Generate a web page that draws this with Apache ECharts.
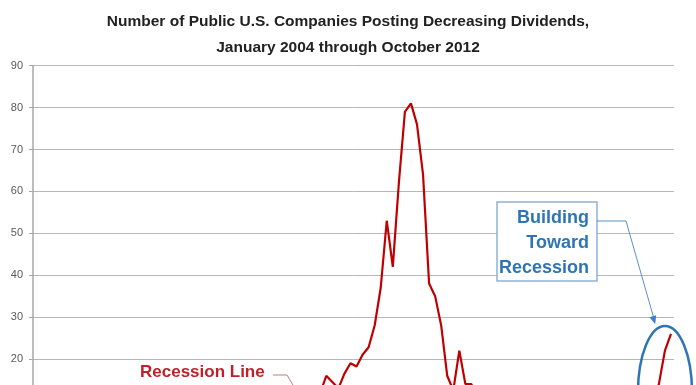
<!DOCTYPE html>
<html>
<head>
<meta charset="utf-8">
<script src="https://cdn.jsdelivr.net/npm/echarts@6/dist/echarts.min.js"></script>
<style>
  html, body { margin: 0; padding: 0; background: #fff; overflow: hidden; }
  /* the reference is a crop: the lower part of the chart lies below the window */
  #chart { width: 696px; height: 480px; }
</style>
</head>
<body>
<div id="chart"></div>
<script>
// monthly counts, Jan 2004 .. Oct 2012 (values under ~14 are below the visible crop, estimated)
var values2004 = [9, 6, 7, 8, 5, 7, 6, 8, 7, 6, 9, 8];
var values2005 = [8, 5, 6, 7, 6, 8, 5, 7, 6, 7, 8, 6];
var values2006 = [7, 5, 6, 8, 5, 6, 7, 6, 5, 7, 6, 9];
var values2007 = [8, 6, 7, 9, 6, 8, 7, 10, 9, 11, 10, 12];
var values2008 = [16, 14.5, 13, 16.5, 19, 18.2, 21, 22.8, 28, 37, 53, 42];
var values2009 = [62, 79, 81, 76, 64, 38, 35, 28, 16, 12.5, 22, 14];
var values2010 = [14, 9, 8, 10, 7, 8, 9, 6, 7, 8, 6, 9];
var values2011 = [7, 5, 6, 7, 5, 6, 5, 7, 6, 8, 7, 9];
var values2012 = [8, 6, 7, 9, 8, 10, 9, 14, 22, 26];

var monthNames = ['Jan', 'Feb', 'Mar', 'Apr', 'May', 'Jun', 'Jul', 'Aug', 'Sep', 'Oct', 'Nov', 'Dec'];
var values = [].concat(values2004, values2005, values2006, values2007, values2008,
  values2009, values2010, values2011, values2012);
var months = values.map(function (v, i) {
  return monthNames[i % 12] + '-' + String(4 + Math.floor(i / 12)).padStart(2, '0');
});

var chart = echarts.init(document.getElementById('chart'));
var font = 'Liberation Sans';

chart.setOption({
  animation: false,
  title: {
    text: 'Number of Public U.S. Companies Posting Decreasing Dividends,\nJanuary 2004 through October 2012',
    left: 'center',
    top: 4,
    textStyle: {
      fontFamily: font,
      fontSize: 15.5,
      fontWeight: 'bold',
      color: '#222',
      lineHeight: 26
    }
  },
  grid: { left: 33, right: 22, top: 65.7, bottom: 37.2 },
  xAxis: {
    type: 'category',
    data: months,
    boundaryGap: true,
    axisLabel: { show: false },
    axisTick: { show: false },
    axisLine: { lineStyle: { color: '#a6a6a6' } }
  },
  yAxis: {
    type: 'value',
    min: 0,
    max: 90,
    interval: 10,
    axisLine: { show: true, lineStyle: { color: '#a6a6a6', width: 1.5 } },
    axisTick: { show: true, length: 4, lineStyle: { color: '#a6a6a6' } },
    axisLabel: { fontFamily: font, fontSize: 11, color: '#595959', margin: 10 },
    splitLine: { lineStyle: { color: '#b7b7b7' } }
  },
  series: [{
    type: 'line',
    data: values,
    symbol: 'none',
    lineStyle: { color: '#c00000', width: 2.2 }
  }],
  graphic: [
    {
      type: 'text', left: 140, top: 364, z: 10,
      style: { text: 'Recession Line', font: 'bold 17px ' + font, fill: '#c0202a' }
    },
    {
      type: 'polyline', z: 10,
      shape: { points: [[273, 375], [287, 375], [297, 392]] },
      style: { stroke: '#b98080', lineWidth: 1, fill: null }
    },
    {
      type: 'rect', z: 10,
      shape: { x: 497, y: 202, width: 100, height: 79 },
      style: { fill: '#fff', stroke: '#8db3d7', lineWidth: 1.5 }
    },
    {
      type: 'text', x: 589, y: 243, z: 11,
      style: {
        text: 'Building\nToward\nRecession',
        font: 'bold 18px ' + font,
        lineHeight: 25,
        fill: '#2f75b5',
        align: 'right',
        verticalAlign: 'middle'
      }
    },
    {
      type: 'polyline', z: 10,
      shape: { points: [[597, 221], [626, 221], [653.5, 317]] },
      style: { stroke: '#5b8fc7', lineWidth: 1, fill: null }
    },
    {
      type: 'polygon', z: 10,
      shape: { points: [[655.2, 324], [656.2, 315.3], [649.4, 317.3]] },
      style: { fill: '#3f7fc0' }
    },
    {
      type: 'ellipse', z: 10,
      shape: { cx: 665, cy: 392, rx: 27, ry: 66 },
      style: { stroke: '#2e75b6', lineWidth: 2.5, fill: null }
    }
  ]
});
</script>
</body>
</html>
